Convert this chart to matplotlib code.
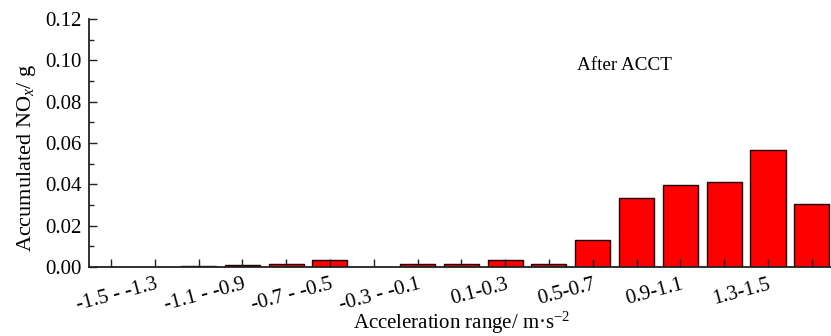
import matplotlib
matplotlib.use("Agg")
import matplotlib.pyplot as plt
from matplotlib.ticker import MultipleLocator
from matplotlib.transforms import ScaledTranslation

categories = ["-1.5 - -1.3", "-1.3 - -1.1", "-1.1 - -0.9", "-0.9 - -0.7",
              "-0.7 - -0.5", "-0.5 - -0.3", "-0.3 - -0.1", "-0.1 - 0.1",
              "0.1-0.3", "0.3-0.5", "0.5-0.7", "0.7-0.9", "0.9-1.1",
              "1.1-1.3", "1.3-1.5", "1.5-1.7", "1.7-1.9"]
nox_values = [0.0, 0.0, 0.0003, 0.0011, 0.0016, 0.0035, 0.0, 0.0013,
              0.0013, 0.0034, 0.0013, 0.0133, 0.0335, 0.0395, 0.0413,
              0.0568, 0.0303]
shown_labels = ["-1.5 - -1.3", "-1.1 - -0.9", "-0.7 - -0.5", "-0.3 - -0.1",
                "0.1-0.3", "0.5-0.7", "0.9-1.1", "1.3-1.5"]
yticks = [0.00, 0.02, 0.04, 0.06, 0.08, 0.10, 0.12]

plt.rcParams['font.family'] = ['Liberation Serif', 'DejaVu Serif']
plt.rcParams['mathtext.fontset'] = 'custom'
plt.rcParams['mathtext.rm'] = 'Liberation Serif'
plt.rcParams['mathtext.it'] = 'Liberation Serif:italic'

fig = plt.figure(figsize=(8.31, 3.36), dpi=100)
ax = fig.add_axes([89 / 831, 1 - 267 / 336, (833.7 - 89) / 831, (267 - 19) / 336])

x = list(range(len(categories)))
ax.bar(x, nox_values, width=0.8, color='#ff0000', edgecolor='#1a0000',
       linewidth=1.0, zorder=1)

ax.set_xlim(-0.5, len(categories) - 0.5)
ax.set_ylim(0, 0.12)

for s in ['top', 'right']:
    ax.spines[s].set_visible(False)
for s in ['left', 'bottom']:
    ax.spines[s].set_linewidth(1.3)
    ax.spines[s].set_color('#222222')
    ax.spines[s].set_zorder(3)

ax.set_yticks(yticks)
ax.set_yticklabels([f"{v:.2f}" for v in yticks])
ax.yaxis.set_minor_locator(MultipleLocator(0.01))
ax.tick_params(axis='y', which='major', direction='in', length=6, width=1.0,
               labelsize=15, pad=5, color='#222222')
ax.tick_params(axis='y', which='minor', direction='in', length=3.5, width=1.0,
               color='#222222')

ax.set_xticks(x)
ax.set_xticklabels([c if c in shown_labels else '' for c in categories])
ax.tick_params(axis='x', which='major', direction='in', length=6, width=1.0,
               labelsize=15, pad=6, color='#222222')
offset = ScaledTranslation(0.438, 0, fig.dpi_scale_trans)
for lab in ax.get_xticklabels():
    lab.set_rotation(15)
    lab.set_ha('right')
    lab.set_rotation_mode('anchor')
    lab.set_transform(lab.get_transform() + offset)

ax.set_xlabel('Acceleration range/ m·s$^{-2}$', fontsize=15)
ax.xaxis.set_label_coords(0.5, -0.172)
ax.set_ylabel('Accumulated NO$_x$/ g', fontsize=16)
ax.yaxis.set_label_coords(-0.068, 0.44)

ax.text(11.73, 0.0973, 'After ACCT', fontsize=13.8, ha='center', va='center')

fig.savefig('out.png', dpi=100)
